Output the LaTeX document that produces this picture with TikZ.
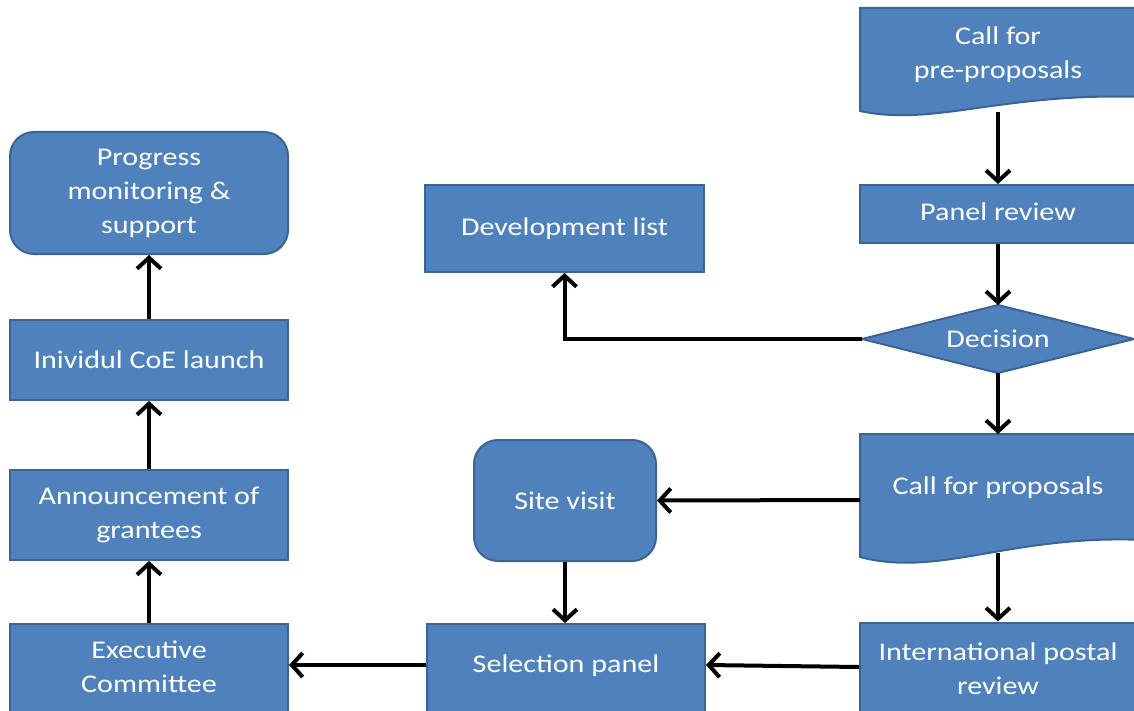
\documentclass[tikz,border=0pt]{standalone}
\usepackage{fontspec}
\setmainfont[FakeStretch=1.18]{Carlito}
\usetikzlibrary{arrows.meta}
\definecolor{boxfill}{HTML}{4F81BD}
\definecolor{boxline}{HTML}{3A6496}
\tikzset{
  shapestyle/.style={fill=boxfill, draw=boxline, line width=2},
  boxnode/.style={shapestyle, rectangle, text=white, align=center, inner sep=0,
    font=\fontsize{25.5}{34}\selectfont},
  txt/.style={text=white, align=center, inner sep=0, font=\fontsize{25.5}{34}\selectfont},
  conn/.style={line width=4, -{Straight Barb[length=11, width=24, line width=4]}}
}
\begin{document}
\begin{tikzpicture}[x=1pt,y=-1pt]
\useasboundingbox (0,0) rectangle (1134,711);
\clip (0,0) rectangle (1134,711);
% document shapes
\path[shapestyle] (860,8) -- (1145,8) -- (1145,97) .. controls (1000,92) and (935,127) .. (860,111) -- cycle;
\node[txt] (pre) at (998,55) {Call for\\pre-proposals};
\coordinate (preb) at (998,112);
\path[shapestyle] (860,434) -- (1145,434) -- (1145,540) .. controls (1010,534) and (940,578) .. (860,557) -- cycle;
\node[txt] (cfp) at (998,488) {Call for proposals};
\coordinate (cfpt) at (998,434);
\coordinate (cfpb) at (998,553);
\coordinate (cfpl) at (860,500);
% diamond
\path[shapestyle] (862,339) -- (998,305) -- (1134,339) -- (998,373) -- cycle;
\node[txt] (dec) at (998,339) {Decision};
\coordinate (dect) at (998,305);
\coordinate (decb) at (998,373);
\coordinate (decl) at (862,339);
% boxes
\node[boxnode, minimum width=290, minimum height=58] (pr) at (1005,214) {};
\node[txt] at (998,212) {Panel review};
\node[boxnode, minimum width=290, minimum height=95] (ipr) at (1005,670) {};
\node[txt] at (998,669) {International postal\\review};
\node[boxnode, minimum width=279, minimum height=87] (dev) at (564.5,228.5) {Development list};
\node[boxnode, rounded corners=24, minimum width=182, minimum height=121] (site) at (565,500.5) {Site visit};
\node[boxnode, minimum width=278, minimum height=92] (sel) at (566,670) {};
\node[txt] at (566,666) {Selection panel};
\node[boxnode, minimum width=278, minimum height=92] (exe) at (149,670) {};
\node[txt] at (149,667) {Executive\\Committee};
\node[boxnode, minimum width=278, minimum height=90] (ann) at (149,515) {Announcement of\\grantees};
\node[boxnode, minimum width=278, minimum height=80] (ind) at (149,360) {Inividul CoE launch};
\node[boxnode, rounded corners=24, minimum width=278, minimum height=122] (prog) at (149,193) {Progress\\monitoring \&\\support};
% connectors
\draw[conn] (preb) -- (pr.north -| preb);
\draw[conn] (pr.south -| dect) -- (dect);
\draw[conn] (decl) -| (dev.south);
\draw[conn] (decb) -- (cfpt);
\draw[conn] (cfpl) -- (site.east);
\draw[conn] (cfpb) -- (ipr.north -| cfpb);
\draw[conn] (site.south) -- (sel.north -| site.south);
\draw[conn] (ipr.west |- 0,667) -- (sel.east |- 0,665);
\draw[conn] (sel.west |- 0,665) -- (exe.east |- 0,665);
\draw[conn] (exe.north) -- (ann.south);
\draw[conn] (ann.north) -- (ind.south);
\draw[conn] (ind.north) -- (prog.south);
\end{tikzpicture}
\end{document}
